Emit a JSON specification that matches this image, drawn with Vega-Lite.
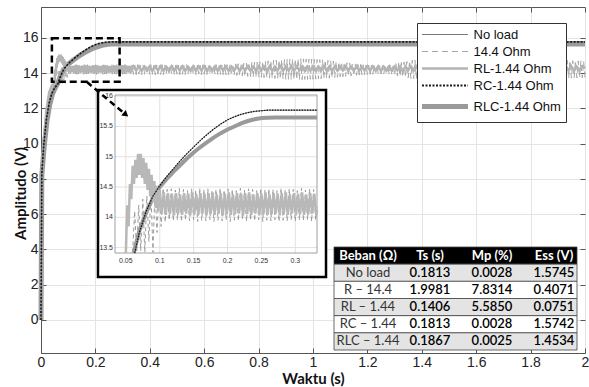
{
"$schema":"https://vega.github.io/schema/vega-lite/v6.json",
"width":544,"height":346,
"autosize":{"type":"none"},
"padding":{"left":41,"top":7,"right":4,"bottom":34},
"config":{"view":{"stroke":"#555","strokeWidth":1},"font":"Liberation Sans","axis":{"labelFlush":false,"labelOverlap":false,"labelBound":false}},
"datasets":{
"rc":[{"t":0,"v":0},{"t":0.003,"v":8.3},{"t":0.01,"v":9.9},{"t":0.02,"v":11.4},{"t":0.03,"v":12.3},{"t":0.04,"v":12.85},{"t":0.05,"v":13.15},{"t":0.063,"v":13.41},{"t":0.07,"v":13.75},{"t":0.08,"v":14.1},{"t":0.09,"v":14.35},{"t":0.1,"v":14.52},{"t":0.11,"v":14.67},{"t":0.12,"v":14.8},{"t":0.13,"v":14.93},{"t":0.14,"v":15.05},{"t":0.15,"v":15.16},{"t":0.16,"v":15.27},{"t":0.17,"v":15.37},{"t":0.18,"v":15.46},{"t":0.19,"v":15.54},{"t":0.2,"v":15.61},{"t":0.21,"v":15.66},{"t":0.22,"v":15.7},{"t":0.23,"v":15.73},{"t":0.24,"v":15.75},{"t":0.26,"v":15.77},{"t":0.332,"v":15.77},{"t":2,"v":15.77}],
"nl":[{"t":0,"v":0},{"t":0.003,"v":8.3},{"t":0.01,"v":9.9},{"t":0.02,"v":11.4},{"t":0.03,"v":12.3},{"t":0.04,"v":12.85},{"t":0.05,"v":13.15},{"t":0.063,"v":13.41},{"t":0.07,"v":13.75},{"t":0.08,"v":14.1},{"t":0.09,"v":14.35},{"t":0.1,"v":14.52},{"t":0.11,"v":14.67},{"t":0.12,"v":14.8},{"t":0.13,"v":14.93},{"t":0.14,"v":15.05},{"t":0.15,"v":15.16},{"t":0.16,"v":15.27},{"t":0.17,"v":15.37},{"t":0.18,"v":15.46},{"t":0.19,"v":15.54},{"t":0.2,"v":15.61},{"t":0.21,"v":15.66},{"t":0.22,"v":15.7},{"t":0.23,"v":15.73},{"t":0.24,"v":15.75},{"t":0.26,"v":15.77},{"t":0.332,"v":15.77},{"t":2,"v":15.77}],
"rlc":[{"t":0,"v":0},{"t":0.003,"v":8.2},{"t":0.012,"v":9.9},{"t":0.022,"v":11.3},{"t":0.032,"v":12.2},{"t":0.042,"v":12.8},{"t":0.052,"v":13.15},{"t":0.0615,"v":13.41},{"t":0.07,"v":13.78},{"t":0.08,"v":14.08},{"t":0.09,"v":14.32},{"t":0.1,"v":14.5},{"t":0.11,"v":14.63},{"t":0.12,"v":14.75},{"t":0.13,"v":14.86},{"t":0.14,"v":14.97},{"t":0.15,"v":15.07},{"t":0.16,"v":15.16},{"t":0.17,"v":15.24},{"t":0.18,"v":15.32},{"t":0.19,"v":15.39},{"t":0.2,"v":15.45},{"t":0.21,"v":15.5},{"t":0.22,"v":15.55},{"t":0.23,"v":15.59},{"t":0.24,"v":15.62},{"t":0.25,"v":15.64},{"t":0.27,"v":15.65},{"t":0.332,"v":15.65},{"t":2,"v":15.65}],
"rl":[{"t":0,"v":0},{"t":0.003,"v":8.4},{"t":0.01,"v":10.1},{"t":0.02,"v":11.9},{"t":0.03,"v":12.9},{"t":0.04,"v":13.3},{"t":0.05,"v":13.41},{"t":0.052,"v":14.2},{"t":0.054,"v":13.85},{"t":0.056,"v":14.55},{"t":0.058,"v":14.3},{"t":0.06,"v":14.85},{"t":0.062,"v":14.55},{"t":0.064,"v":14.95},{"t":0.066,"v":14.65},{"t":0.068,"v":15.05},{"t":0.07,"v":14.7},{"t":0.072,"v":15.05},{"t":0.074,"v":14.65},{"t":0.076,"v":14.98},{"t":0.078,"v":14.55},{"t":0.08,"v":14.9},{"t":0.082,"v":14.45},{"t":0.084,"v":14.8},{"t":0.086,"v":14.35},{"t":0.088,"v":14.7},{"t":0.09,"v":14.25},{"t":0.092,"v":14.6},{"t":0.094,"v":14.15},{"t":0.096,"v":14.52},{"t":0.098,"v":14.1},
{"t":0.1,"v":14.45},{"t":0.103,"v":14.06},{"t":0.106,"v":14.41},{"t":0.109,"v":14.04},{"t":0.112,"v":14.4},{"t":0.115,"v":14.05},{"t":0.118,"v":14.39},{"t":0.121,"v":14.03},{"t":0.124,"v":14.4},{"t":0.127,"v":14.05},{"t":0.13,"v":14.38},{"t":0.133,"v":14.04},{"t":0.136,"v":14.4},{"t":0.139,"v":14.06},{"t":0.142,"v":14.39},{"t":0.145,"v":14.03},{"t":0.148,"v":14.41},{"t":0.151,"v":14.05},{"t":0.154,"v":14.38},{"t":0.157,"v":14.04},{"t":0.16,"v":14.4},{"t":0.163,"v":14.06},{"t":0.166,"v":14.39},{"t":0.169,"v":14.03},{"t":0.172,"v":14.4},{"t":0.175,"v":14.05},{"t":0.178,"v":14.41},{"t":0.181,"v":14.04},{"t":0.184,"v":14.38},{"t":0.187,"v":14.06},{"t":0.19,"v":14.4},{"t":0.193,"v":14.03},{"t":0.196,"v":14.39},{"t":0.199,"v":14.05},{"t":0.202,"v":14.41},{"t":0.205,"v":14.04},{"t":0.208,"v":14.38},{"t":0.211,"v":14.05},{"t":0.214,"v":14.4},{"t":0.217,"v":14.06},{"t":0.22,"v":14.39},{"t":0.223,"v":14.03},{"t":0.226,"v":14.4},{"t":0.229,"v":14.05},{"t":0.232,"v":14.41},{"t":0.235,"v":14.04},{"t":0.238,"v":14.38},{"t":0.241,"v":14.06},{"t":0.244,"v":14.4},{"t":0.247,"v":14.03},{"t":0.25,"v":14.39},{"t":0.253,"v":14.05},{"t":0.256,"v":14.41},{"t":0.259,"v":14.04},{"t":0.262,"v":14.38},{"t":0.265,"v":14.05},{"t":0.268,"v":14.4},{"t":0.271,"v":14.06},{"t":0.274,"v":14.39},{"t":0.277,"v":14.03},{"t":0.28,"v":14.4},{"t":0.283,"v":14.05},{"t":0.286,"v":14.41},{"t":0.289,"v":14.04},{"t":0.292,"v":14.38},{"t":0.295,"v":14.06},{"t":0.298,"v":14.4},{"t":0.301,"v":14.03},{"t":0.304,"v":14.39},{"t":0.307,"v":14.05},{"t":0.31,"v":14.41},{"t":0.313,"v":14.04},{"t":0.316,"v":14.38},{"t":0.319,"v":14.05},{"t":0.322,"v":14.4},{"t":0.325,"v":14.06},{"t":0.328,"v":14.39},{"t":0.331,"v":14.04},{"t":0.332,"v":14.12},
{"t":0.34,"v":14.37},{"t":0.35,"v":14.15},{"t":0.36,"v":14.38},{"t":0.37,"v":14.13},{"t":0.38,"v":14.36},{"t":0.39,"v":14.16},{"t":0.4,"v":14.39},{"t":0.41,"v":14.14},{"t":0.42,"v":14.37},{"t":0.43,"v":14.15},{"t":0.44,"v":14.38},{"t":0.45,"v":14.13},{"t":0.46,"v":14.36},{"t":0.47,"v":14.16},{"t":0.48,"v":14.39},{"t":0.49,"v":14.14},{"t":0.5,"v":14.37},{"t":0.51,"v":14.15},{"t":0.52,"v":14.38},{"t":0.53,"v":14.13},{"t":0.54,"v":14.36},{"t":0.55,"v":14.16},{"t":0.56,"v":14.39},{"t":0.57,"v":14.14},{"t":0.58,"v":14.37},{"t":0.59,"v":14.15},{"t":0.6,"v":14.38},{"t":0.61,"v":14.13},{"t":0.62,"v":14.36},{"t":0.63,"v":14.16},{"t":0.64,"v":14.39},{"t":0.65,"v":14.14},{"t":0.66,"v":14.37},{"t":0.67,"v":14.15},{"t":0.68,"v":14.38},{"t":0.69,"v":14.13},{"t":0.7,"v":14.36},{"t":0.71,"v":14.16},{"t":0.72,"v":14.39},{"t":0.73,"v":14.14},{"t":0.74,"v":14.37},{"t":0.75,"v":14.15},{"t":0.76,"v":14.38},{"t":0.77,"v":14.13},{"t":0.78,"v":14.36},{"t":0.79,"v":14.16},{"t":0.8,"v":14.39},{"t":0.81,"v":14.14},{"t":0.82,"v":14.37},{"t":0.83,"v":14.15},{"t":0.84,"v":14.38},{"t":0.85,"v":14.13},{"t":0.86,"v":14.36},{"t":0.87,"v":14.16},{"t":0.88,"v":14.39},{"t":0.89,"v":14.14},{"t":0.9,"v":14.37},{"t":0.91,"v":14.15},{"t":0.92,"v":14.38},{"t":0.93,"v":14.13},{"t":0.94,"v":14.36},{"t":0.95,"v":14.16},{"t":0.96,"v":14.39},{"t":0.97,"v":14.14},{"t":0.98,"v":14.37},{"t":0.99,"v":14.15},{"t":1,"v":14.38},{"t":1.01,"v":14.13},{"t":1.02,"v":14.36},{"t":1.03,"v":14.16},{"t":1.04,"v":14.39},{"t":1.05,"v":14.14},{"t":1.06,"v":14.37},{"t":1.07,"v":14.15},{"t":1.08,"v":14.38},{"t":1.09,"v":14.13},{"t":1.1,"v":14.36},{"t":1.11,"v":14.16},{"t":1.12,"v":14.39},{"t":1.13,"v":14.14},{"t":1.14,"v":14.37},{"t":1.15,"v":14.15},{"t":1.16,"v":14.38},{"t":1.17,"v":14.13},{"t":1.18,"v":14.36},{"t":1.19,"v":14.16},{"t":1.2,"v":14.39},{"t":1.21,"v":14.14},{"t":1.22,"v":14.37},{"t":1.23,"v":14.15},{"t":1.24,"v":14.38},{"t":1.25,"v":14.13},{"t":1.26,"v":14.36},{"t":1.27,"v":14.16},{"t":1.28,"v":14.39},{"t":1.29,"v":14.14},{"t":1.3,"v":14.37},{"t":1.31,"v":14.15},{"t":1.32,"v":14.38},{"t":1.33,"v":14.13},{"t":1.34,"v":14.36},{"t":1.35,"v":14.16},{"t":1.36,"v":14.39},{"t":1.37,"v":14.14},{"t":1.38,"v":14.37},{"t":1.39,"v":14.15},{"t":1.4,"v":14.38},{"t":1.43,"v":14.14},{"t":1.46,"v":14.37},{"t":1.49,"v":14.15},{"t":1.52,"v":14.38},{"t":1.55,"v":14.13},{"t":1.58,"v":14.36},{"t":1.61,"v":14.16},{"t":1.64,"v":14.39},{"t":1.67,"v":14.14},{"t":1.7,"v":14.37},{"t":1.73,"v":14.15},{"t":1.76,"v":14.38},{"t":1.79,"v":14.13},{"t":1.82,"v":14.36},{"t":1.85,"v":14.16},{"t":1.88,"v":14.39},{"t":1.91,"v":14.14},{"t":1.93,"v":14.37},{"t":1.94,"v":14.15},{"t":1.95,"v":14.38},{"t":1.96,"v":14.13},{"t":1.97,"v":14.36},{"t":1.98,"v":14.16},{"t":1.99,"v":14.39},{"t":2,"v":14.26}],
"r14":[{"t":0,"v":0},{"t":0.004,"v":8.1},{"t":0.012,"v":9.8},{"t":0.022,"v":11.6},{"t":0.034,"v":12.7},{"t":0.046,"v":13.25},{"t":0.06,"v":13.42},{"t":0.063,"v":14.1},{"t":0.066,"v":13.42},{"t":0.069,"v":14.2},{"t":0.072,"v":13.45},{"t":0.075,"v":14.3},{"t":0.078,"v":13.42},{"t":0.081,"v":14.35},{"t":0.084,"v":13.6},{"t":0.087,"v":14.42},{"t":0.09,"v":13.42},{"t":0.093,"v":14.45},{"t":0.096,"v":13.75},{"t":0.099,"v":14.5},{"t":0.102,"v":13.85},
{"t":0.105,"v":14.48},{"t":0.108,"v":13.92},{"t":0.111,"v":14.46},{"t":0.114,"v":13.95},{"t":0.117,"v":14.47},{"t":0.12,"v":13.94},{"t":0.123,"v":14.45},{"t":0.126,"v":13.96},{"t":0.129,"v":14.48},{"t":0.132,"v":13.93},{"t":0.135,"v":14.46},{"t":0.138,"v":13.95},{"t":0.141,"v":14.44},{"t":0.144,"v":13.94},{"t":0.147,"v":14.47},{"t":0.15,"v":13.96},{"t":0.153,"v":14.45},{"t":0.156,"v":13.93},{"t":0.159,"v":14.48},{"t":0.162,"v":13.95},{"t":0.165,"v":14.46},{"t":0.168,"v":13.94},{"t":0.171,"v":14.47},{"t":0.174,"v":13.96},{"t":0.177,"v":14.44},{"t":0.18,"v":13.93},{"t":0.183,"v":14.46},{"t":0.186,"v":13.95},{"t":0.189,"v":14.48},{"t":0.192,"v":13.94},{"t":0.195,"v":14.45},{"t":0.198,"v":13.96},{"t":0.201,"v":14.47},{"t":0.204,"v":13.93},{"t":0.207,"v":14.46},{"t":0.21,"v":13.95},{"t":0.213,"v":14.44},{"t":0.216,"v":13.94},{"t":0.219,"v":14.48},{"t":0.222,"v":13.96},{"t":0.225,"v":14.45},{"t":0.228,"v":13.93},{"t":0.231,"v":14.47},{"t":0.234,"v":13.95},{"t":0.237,"v":14.46},{"t":0.24,"v":13.94},{"t":0.243,"v":14.44},{"t":0.246,"v":13.96},{"t":0.249,"v":14.48},{"t":0.252,"v":13.93},{"t":0.255,"v":14.45},{"t":0.258,"v":13.95},{"t":0.261,"v":14.47},{"t":0.264,"v":13.94},{"t":0.267,"v":14.46},{"t":0.27,"v":13.96},{"t":0.273,"v":14.44},{"t":0.276,"v":13.93},{"t":0.279,"v":14.48},{"t":0.282,"v":13.95},{"t":0.285,"v":14.45},{"t":0.288,"v":13.94},{"t":0.291,"v":14.47},{"t":0.294,"v":13.96},{"t":0.297,"v":14.46},{"t":0.3,"v":13.93},{"t":0.303,"v":14.44},{"t":0.306,"v":13.95},{"t":0.309,"v":14.48},{"t":0.312,"v":13.94},{"t":0.315,"v":14.45},{"t":0.318,"v":13.96},{"t":0.321,"v":14.47},{"t":0.324,"v":13.93},{"t":0.327,"v":14.46},{"t":0.33,"v":13.95},{"t":0.332,"v":14.2},
{"t":0.335,"v":14.46},{"t":0.34,"v":13.93},{"t":0.345,"v":14.44},{"t":0.35,"v":13.91},{"t":0.355,"v":14.47},{"t":0.36,"v":13.94},{"t":0.365,"v":14.43},{"t":0.37,"v":13.9},{"t":0.375,"v":14.46},{"t":0.38,"v":13.92},{"t":0.385,"v":14.45},{"t":0.39,"v":13.95},{"t":0.395,"v":14.42},{"t":0.4,"v":13.91},{"t":0.405,"v":14.47},{"t":0.41,"v":13.93},{"t":0.415,"v":14.44},{"t":0.42,"v":13.9},{"t":0.425,"v":14.46},{"t":0.43,"v":13.94},{"t":0.435,"v":14.43},{"t":0.44,"v":13.92},{"t":0.445,"v":14.48},{"t":0.45,"v":13.91},{"t":0.455,"v":14.44},{"t":0.46,"v":13.95},{"t":0.465,"v":14.45},{"t":0.47,"v":13.9},{"t":0.475,"v":14.43},{"t":0.48,"v":13.93},{"t":0.485,"v":14.47},{"t":0.49,"v":13.92},{"t":0.495,"v":14.44},{"t":0.5,"v":13.94},{"t":0.505,"v":14.46},{"t":0.51,"v":13.91},{"t":0.515,"v":14.42},{"t":0.52,"v":13.93},{"t":0.525,"v":14.45},{"t":0.53,"v":13.9},{"t":0.535,"v":14.47},{"t":0.54,"v":13.94},{"t":0.545,"v":14.44},{"t":0.55,"v":13.92},{"t":0.555,"v":14.46},{"t":0.56,"v":13.93},{"t":0.565,"v":14.43},{"t":0.57,"v":13.91},{"t":0.575,"v":14.45},{"t":0.58,"v":13.95},{"t":0.585,"v":14.44},{"t":0.59,"v":13.9},{"t":0.595,"v":14.47},{"t":0.6,"v":13.93},{"t":0.605,"v":14.45},{"t":0.61,"v":13.92},{"t":0.615,"v":14.43},{"t":0.62,"v":13.94},{"t":0.625,"v":14.46},{"t":0.63,"v":13.91},{"t":0.635,"v":14.44},{"t":0.64,"v":13.93},{"t":0.645,"v":14.47},{"t":0.65,"v":13.9},{"t":0.655,"v":14.45},{"t":0.66,"v":13.92},{"t":0.665,"v":14.46},{"t":0.67,"v":13.91},{"t":0.675,"v":14.48},{"t":0.68,"v":13.9},{"t":0.685,"v":14.47},{"t":0.69,"v":13.89},{"t":0.695,"v":14.5},{"t":0.7,"v":13.88},
{"t":0.705,"v":14.5},{"t":0.71,"v":13.87},{"t":0.715,"v":14.52},{"t":0.72,"v":13.86},{"t":0.725,"v":14.53},{"t":0.73,"v":13.85},{"t":0.735,"v":14.54},{"t":0.74,"v":13.84},{"t":0.745,"v":14.55},{"t":0.75,"v":13.82},{"t":0.755,"v":14.57},{"t":0.76,"v":13.81},{"t":0.765,"v":14.58},{"t":0.77,"v":13.8},{"t":0.775,"v":14.6},{"t":0.78,"v":13.78},{"t":0.785,"v":14.61},{"t":0.79,"v":13.77},{"t":0.795,"v":14.62},{"t":0.8,"v":13.76},{"t":0.805,"v":14.64},{"t":0.81,"v":13.75},{"t":0.815,"v":14.66},{"t":0.82,"v":13.74},{"t":0.825,"v":14.67},{"t":0.83,"v":13.72},{"t":0.835,"v":14.69},{"t":0.84,"v":13.71},{"t":0.845,"v":14.7},{"t":0.85,"v":13.7},{"t":0.855,"v":14.72},{"t":0.86,"v":13.69},{"t":0.865,"v":14.73},{"t":0.87,"v":13.68},{"t":0.875,"v":14.74},{"t":0.88,"v":13.67},{"t":0.885,"v":14.76},{"t":0.89,"v":13.66},{"t":0.895,"v":14.77},{"t":0.9,"v":13.65},{"t":0.905,"v":14.78},{"t":0.91,"v":13.65},{"t":0.915,"v":14.79},{"t":0.92,"v":13.64},{"t":0.925,"v":14.8},{"t":0.93,"v":13.64},{"t":0.935,"v":14.8},{"t":0.94,"v":13.63},{"t":0.945,"v":14.81},{"t":0.95,"v":13.63},{"t":0.955,"v":14.81},{"t":0.96,"v":13.63},{"t":0.965,"v":14.8},{"t":0.97,"v":13.64},{"t":0.975,"v":14.8},{"t":0.98,"v":13.64},{"t":0.985,"v":14.79},{"t":0.99,"v":13.65},{"t":0.995,"v":14.79},{"t":1,"v":13.65},{"t":1.005,"v":14.78},{"t":1.01,"v":13.66},{"t":1.015,"v":14.77},{"t":1.02,"v":13.67},{"t":1.025,"v":14.76},{"t":1.03,"v":13.68},{"t":1.035,"v":14.75},{"t":1.04,"v":13.69},{"t":1.045,"v":14.74},{"t":1.05,"v":13.7},{"t":1.055,"v":14.72},{"t":1.06,"v":13.71},{"t":1.065,"v":14.7},{"t":1.07,"v":13.73},{"t":1.075,"v":14.68},{"t":1.08,"v":13.74},{"t":1.085,"v":14.66},{"t":1.09,"v":13.76},{"t":1.095,"v":14.64},{"t":1.1,"v":13.78},{"t":1.105,"v":14.62},{"t":1.11,"v":13.79},{"t":1.115,"v":14.6},{"t":1.12,"v":13.81},{"t":1.125,"v":14.58},{"t":1.13,"v":13.83},{"t":1.135,"v":14.56},{"t":1.14,"v":13.84},{"t":1.145,"v":14.54},{"t":1.15,"v":13.86},{"t":1.155,"v":14.52},{"t":1.16,"v":13.87},{"t":1.165,"v":14.5},{"t":1.17,"v":13.89},{"t":1.175,"v":14.49},{"t":1.18,"v":13.9},{"t":1.185,"v":14.47},{"t":1.19,"v":13.91},{"t":1.195,"v":14.46},{"t":1.2,"v":13.92},{"t":1.205,"v":14.45},{"t":1.21,"v":13.93},{"t":1.215,"v":14.44},{"t":1.22,"v":13.94},{"t":1.225,"v":14.43},{"t":1.23,"v":13.94},{"t":1.235,"v":14.43},{"t":1.24,"v":13.95},{"t":1.245,"v":14.42},{"t":1.25,"v":13.95},{"t":1.255,"v":14.42},{"t":1.26,"v":13.94},{"t":1.265,"v":14.43},{"t":1.27,"v":13.93},{"t":1.275,"v":14.45},{"t":1.28,"v":13.91},{"t":1.285,"v":14.47},{"t":1.29,"v":13.89},{"t":1.295,"v":14.5},{"t":1.3,"v":13.87},{"t":1.305,"v":14.53},{"t":1.31,"v":13.84},{"t":1.315,"v":14.56},{"t":1.32,"v":13.81},{"t":1.325,"v":14.6},{"t":1.33,"v":13.78},{"t":1.335,"v":14.63},{"t":1.34,"v":13.75},{"t":1.345,"v":14.66},{"t":1.35,"v":13.72},{"t":1.355,"v":14.69},{"t":1.36,"v":13.7},{"t":1.365,"v":14.72},{"t":1.37,"v":13.68},{"t":1.375,"v":14.74},{"t":1.38,"v":13.67},{"t":1.385,"v":14.76},{"t":1.39,"v":13.66},{"t":1.395,"v":14.77},{"t":1.4,"v":13.65},
{"t":1.415,"v":14.78},{"t":1.43,"v":13.65},{"t":1.445,"v":14.76},{"t":1.46,"v":13.67},{"t":1.475,"v":14.72},{"t":1.49,"v":13.7},{"t":1.505,"v":14.66},{"t":1.52,"v":13.75},{"t":1.535,"v":14.6},{"t":1.55,"v":13.8},{"t":1.565,"v":14.55},{"t":1.58,"v":13.84},{"t":1.595,"v":14.52},{"t":1.61,"v":13.85},{"t":1.625,"v":14.55},{"t":1.64,"v":13.82},{"t":1.655,"v":14.6},{"t":1.67,"v":13.78},{"t":1.685,"v":14.66},{"t":1.7,"v":13.74},{"t":1.715,"v":14.7},{"t":1.73,"v":13.7},{"t":1.745,"v":14.74},{"t":1.76,"v":13.68},{"t":1.775,"v":14.76},{"t":1.79,"v":13.67},{"t":1.805,"v":14.77},{"t":1.82,"v":13.67},{"t":1.835,"v":14.76},{"t":1.85,"v":13.68},{"t":1.865,"v":14.74},{"t":1.88,"v":13.69},{"t":1.895,"v":14.73},{"t":1.91,"v":13.7},{"t":1.925,"v":14.72},{"t":1.93,"v":13.7},{"t":1.935,"v":14.72},{"t":1.94,"v":13.71},{"t":1.945,"v":14.71},{"t":1.95,"v":13.71},{"t":1.955,"v":14.7},{"t":1.96,"v":13.72},{"t":1.965,"v":14.7},{"t":1.97,"v":13.72},{"t":1.975,"v":14.69},{"t":1.98,"v":13.73},{"t":1.985,"v":14.69},{"t":1.99,"v":13.73},{"t":1.995,"v":14.68},{"t":2,"v":13.74}],
"tbl":[{"load":"Beban (Ω)","ts":"Ts (s)","mp":"Mp (%)","ess":"Ess (V)"},{"load":"No load","ts":"0.1813","mp":"0.0028","ess":"1.5745"},{"load":"R – 14.4","ts":"1.9981","mp":"7.8314","ess":"0.4071"},{"load":"RL – 1.44","ts":"0.1406","mp":"5.5850","ess":"0.0751"},{"load":"RC – 1.44","ts":"0.1813","mp":"0.0028","ess":"1.5742"},{"load":"RLC – 1.44","ts":"0.1867","mp":"0.0025","ess":"1.4534"}]
},
"resolve":{"scale":{"x":"independent","y":"independent"}},
"layer":[
{
"resolve":{"axis":{"x":"independent","y":"independent"}},
"layer":[
{
"data":{"name":"rlc"},
"mark":{"type":"line","strokeWidth":5},
"encoding":{
"x":{
"field":"t","type":"quantitative",
"scale":{"domain":[0,2],"nice":false,"zero":false},
"axis":{"orient":"bottom","values":[0,0.2,0.4,0.6,0.8,1,1.2,1.4,1.6,1.8,2],"format":"~g","grid":true,"gridColor":"#e4e4e4","tickSize":-5,"tickColor":"#555","domainColor":"#555","labelPadding":7,"labelFont":"Liberation Sans","labelFontSize":14,"labelColor":"#222","title":"Waktu (s)","titleFont":"Lato","titleFontSize":15,"titleFontWeight":"bold","titleColor":"#111","titleY":25,"titleBaseline":"middle"}
},
"y":{
"field":"v","type":"quantitative",
"scale":{"domain":[-1.871,17.746],"nice":false,"zero":false},
"axis":{"orient":"left","values":[0,2,4,6,8,10,12,14,16],"grid":true,"gridColor":"#e4e4e4","tickSize":-5,"tickColor":"#555","domainColor":"#555","labelPadding":8,"labelFont":"Liberation Sans","labelFontSize":14,"labelColor":"#222","title":"Amplitudo (V)","titleFont":"Lato","titleFontSize":15,"titleFontWeight":"bold","titleColor":"#111","titleX":-21,"titleY":186,"titleBaseline":"middle"}
},
"color":{
"datum":"RLC-1.44 Ohm","type":"nominal",
"scale":{"domain":["No load","14.4 Ohm","RL-1.44 Ohm","RC-1.44 Ohm","RLC-1.44 Ohm"],"range":["#7a7a7a","#a6a6a6","#b4b4b4","#1a1a1a","#9a9a9a"]},
"legend":{
"title":null,"orient":"none","legendX":376,"legendY":16,"fillColor":"#fff","strokeColor":"#333","padding":5,"symbolType":"stroke","symbolSize":2116,"symbolStrokeWidth":1.5,"symbolOffset":16.5,"labelFont":"Liberation Sans","labelFontSize":13,"labelColor":"#111","labelOffset":22,"rowPadding":3,
"encode":{"symbols":{"update":{"strokeWidth":{"signal":"datum.value === 'RLC-1.44 Ohm' ? 5 : datum.value === 'RL-1.44 Ohm' ? 2.5 : datum.value === 'RC-1.44 Ohm' ? 2 : 1.2"}}}}
}
},
"strokeDash":{
"datum":"RLC-1.44 Ohm","type":"nominal",
"scale":{"domain":["No load","14.4 Ohm","RL-1.44 Ohm","RC-1.44 Ohm","RLC-1.44 Ohm"],"range":[[1,0],[6,4],[1,0],[2,1.5],[1,0]]},
"legend":{
"title":null,"orient":"none","legendX":376,"legendY":16,"fillColor":"#fff","strokeColor":"#333","padding":5,"symbolType":"stroke","symbolSize":2116,"symbolStrokeWidth":1.5,"symbolOffset":16.5,"labelFont":"Liberation Sans","labelFontSize":13,"labelColor":"#111","labelOffset":22,"rowPadding":3,
"encode":{"symbols":{"update":{"strokeWidth":{"signal":"datum.value === 'RLC-1.44 Ohm' ? 5 : datum.value === 'RL-1.44 Ohm' ? 2.5 : datum.value === 'RC-1.44 Ohm' ? 2 : 1.2"}}}}
}
}
}
},
{
"data":{"name":"r14"},
"mark":{"type":"line","strokeWidth":1},
"encoding":{
"x":{"field":"t","type":"quantitative","scale":{"domain":[0,2],"nice":false,"zero":false},
"axis":{"orient":"top","values":[0,0.2,0.4,0.6,0.8,1,1.2,1.4,1.6,1.8,2],"labels":false,"grid":false,"domain":false,"tickSize":-5,"tickColor":"#555","title":null}},
"y":{"field":"v","type":"quantitative","scale":{"domain":[-1.871,17.746],"nice":false,"zero":false},
"axis":{"orient":"right","values":[0,2,4,6,8,10,12,14,16],"labels":false,"grid":false,"domain":false,"tickSize":-5,"tickColor":"#555","title":null}},
"color":{"datum":"14.4 Ohm","type":"nominal"},
"strokeDash":{"datum":"14.4 Ohm","type":"nominal"}
}
},
{
"data":{"name":"rl"},
"mark":{"type":"line","strokeWidth":2.5},
"encoding":{
"x":{"field":"t","type":"quantitative","scale":{"domain":[0,2],"nice":false,"zero":false},"axis":null},
"y":{"field":"v","type":"quantitative","scale":{"domain":[-1.871,17.746],"nice":false,"zero":false},"axis":null},
"color":{"datum":"RL-1.44 Ohm","type":"nominal"},
"strokeDash":{"datum":"RL-1.44 Ohm","type":"nominal"}
}
},
{
"data":{"name":"nl"},
"mark":{"type":"line","strokeWidth":1.2},
"encoding":{
"x":{"field":"t","type":"quantitative","scale":{"domain":[0,2],"nice":false,"zero":false},"axis":null},
"y":{"field":"v","type":"quantitative","scale":{"domain":[-1.871,17.746],"nice":false,"zero":false},"axis":null},
"color":{"datum":"No load","type":"nominal"},
"strokeDash":{"datum":"No load","type":"nominal"}
}
},
{
"data":{"name":"rc"},
"mark":{"type":"line","strokeWidth":1.6},
"encoding":{
"x":{"field":"t","type":"quantitative","scale":{"domain":[0,2],"nice":false,"zero":false},"axis":null},
"y":{"field":"v","type":"quantitative","scale":{"domain":[-1.871,17.746],"nice":false,"zero":false},"axis":null},
"color":{"datum":"RC-1.44 Ohm","type":"nominal"},
"strokeDash":{"datum":"RC-1.44 Ohm","type":"nominal"}
}
},
{
"data":{"values":[{}]},
"mark":{"type":"rect","fillOpacity":0,"stroke":"#000","strokeWidth":2.5,"strokeDash":[7,4]},
"encoding":{
"x":{"datum":0.04,"type":"quantitative","scale":{"domain":[0,2],"nice":false,"zero":false},"axis":null},
"x2":{"datum":0.289},
"y":{"datum":13.51,"type":"quantitative","scale":{"domain":[-1.871,17.746],"nice":false,"zero":false},"axis":null},
"y2":{"datum":15.97}
}
}
]
},
{
"layer":[
{
"data":{"values":[{}]},
"mark":{"type":"rect","fill":"#fff","stroke":"#000","strokeWidth":2.5},
"encoding":{
"x":{"datum":0.0089,"type":"quantitative","scale":{"domain":[0.034,0.332],"range":[74,276],"nice":false,"zero":false},"axis":null},
"x2":{"datum":0.3453},
"y":{"datum":13.0135,"type":"quantitative","scale":{"domain":[13.41,16.02],"range":[246,88],"nice":false,"zero":false},"axis":null},
"y2":{"datum":16.1026}
}
},
{
"data":{"values":[{"g":0.05},{"g":0.1},{"g":0.15},{"g":0.2},{"g":0.25},{"g":0.3}]},
"layer":[
{
"mark":{"type":"rule","color":"#e2e2e2","strokeWidth":1},
"encoding":{
"x":{"field":"g","type":"quantitative","scale":{"domain":[0.034,0.332],"range":[74,276],"nice":false,"zero":false},"axis":null},
"y":{"datum":13.41,"type":"quantitative","scale":{"domain":[13.41,16.02],"range":[246,88],"nice":false,"zero":false},"axis":null},
"y2":{"datum":16.02}
}
},
{
"mark":{"type":"text","fontSize":7,"color":"#333","baseline":"top","dy":4},
"encoding":{
"x":{"field":"g","type":"quantitative","scale":{"domain":[0.034,0.332],"range":[74,276],"nice":false,"zero":false},"axis":null},
"y":{"datum":13.41,"type":"quantitative","scale":{"domain":[13.41,16.02],"range":[246,88],"nice":false,"zero":false},"axis":null},
"text":{"field":"g","type":"quantitative","format":"~g"}
}
}
]
},
{
"data":{"values":[{"g":13.5},{"g":14},{"g":14.5},{"g":15},{"g":15.5},{"g":16}]},
"layer":[
{
"mark":{"type":"rule","color":"#e2e2e2","strokeWidth":1},
"encoding":{
"y":{"field":"g","type":"quantitative","scale":{"domain":[13.41,16.02],"range":[246,88],"nice":false,"zero":false},"axis":null},
"x":{"datum":0.034,"type":"quantitative","scale":{"domain":[0.034,0.332],"range":[74,276],"nice":false,"zero":false},"axis":null},
"x2":{"datum":0.332}
}
},
{
"mark":{"type":"text","fontSize":7,"color":"#333","align":"right","baseline":"middle","dx":-2},
"encoding":{
"y":{"field":"g","type":"quantitative","scale":{"domain":[13.41,16.02],"range":[246,88],"nice":false,"zero":false},"axis":null},
"x":{"datum":0.034,"type":"quantitative","scale":{"domain":[0.034,0.332],"range":[74,276],"nice":false,"zero":false},"axis":null},
"text":{"field":"g","type":"quantitative","format":"~g"}
}
}
]
},
{
"data":{"values":[{}]},
"mark":{"type":"rect","fillOpacity":0,"stroke":"#888","strokeWidth":0.8},
"encoding":{
"x":{"datum":0.034,"type":"quantitative","scale":{"domain":[0.034,0.332],"range":[74,276],"nice":false,"zero":false},"axis":null},
"x2":{"datum":0.332},
"y":{"datum":13.41,"type":"quantitative","scale":{"domain":[13.41,16.02],"range":[246,88],"nice":false,"zero":false},"axis":null},
"y2":{"datum":16.02}
}
},
{
"data":{"name":"rlc"},
"transform":[{"filter":"datum.t >= 0.034 && datum.t <= 0.332 && datum.v >= 13.41"}],
"mark":{"type":"line","strokeWidth":4,"color":"#9a9a9a"},
"encoding":{
"x":{"field":"t","type":"quantitative","scale":{"domain":[0.034,0.332],"range":[74,276],"nice":false,"zero":false},"axis":null},
"y":{"field":"v","type":"quantitative","scale":{"domain":[13.41,16.02],"range":[246,88],"nice":false,"zero":false},"axis":null}
}
},
{
"data":{"name":"r14"},
"transform":[{"filter":"datum.t >= 0.034 && datum.t <= 0.332 && datum.v >= 13.41"}],
"mark":{"type":"line","strokeWidth":1,"color":"#9c9c9c","strokeDash":[4,3]},
"encoding":{
"x":{"field":"t","type":"quantitative","scale":{"domain":[0.034,0.332],"range":[74,276],"nice":false,"zero":false},"axis":null},
"y":{"field":"v","type":"quantitative","scale":{"domain":[13.41,16.02],"range":[246,88],"nice":false,"zero":false},"axis":null}
}
},
{
"data":{"name":"rl"},
"transform":[{"filter":"datum.t >= 0.034 && datum.t <= 0.332 && datum.v >= 13.41"}],
"mark":{"type":"line","strokeWidth":2.5,"color":"#b8b8b8"},
"encoding":{
"x":{"field":"t","type":"quantitative","scale":{"domain":[0.034,0.332],"range":[74,276],"nice":false,"zero":false},"axis":null},
"y":{"field":"v","type":"quantitative","scale":{"domain":[13.41,16.02],"range":[246,88],"nice":false,"zero":false},"axis":null}
}
},
{
"data":{"name":"nl"},
"transform":[{"filter":"datum.t >= 0.034 && datum.t <= 0.332 && datum.v >= 13.41"}],
"mark":{"type":"line","strokeWidth":1,"color":"#7a7a7a"},
"encoding":{
"x":{"field":"t","type":"quantitative","scale":{"domain":[0.034,0.332],"range":[74,276],"nice":false,"zero":false},"axis":null},
"y":{"field":"v","type":"quantitative","scale":{"domain":[13.41,16.02],"range":[246,88],"nice":false,"zero":false},"axis":null}
}
},
{
"data":{"name":"rc"},
"transform":[{"filter":"datum.t >= 0.034 && datum.t <= 0.332 && datum.v >= 13.41"}],
"mark":{"type":"line","strokeWidth":1.2,"color":"#111","strokeDash":[1.5,1.2]},
"encoding":{
"x":{"field":"t","type":"quantitative","scale":{"domain":[0.034,0.332],"range":[74,276],"nice":false,"zero":false},"axis":null},
"y":{"field":"v","type":"quantitative","scale":{"domain":[13.41,16.02],"range":[246,88],"nice":false,"zero":false},"axis":null}
}
}
]
},
{
"data":{"name":"tbl"},
"resolve":{"scale":{"x":"independent"}},
"layer":[
{
"mark":{"type":"rect","stroke":"#444","strokeWidth":0.8},
"encoding":{
"x":{"datum":0,"type":"quantitative","scale":{"domain":[0,1],"range":[293,536],"nice":false,"zero":false},"axis":null},
"x2":{"datum":1},
"y":{"field":"load","type":"nominal","scale":{"domain":["Beban (Ω)","No load","R – 14.4","RL – 1.44","RC – 1.44","RLC – 1.44"],"range":[240,343],"paddingInner":0,"paddingOuter":0},"axis":null},
"fill":{"condition":[{"test":"datum.load === 'Beban (Ω)'","value":"#000"},{"test":"datum.load === 'No load' || datum.load === 'RL – 1.44' || datum.load === 'RLC – 1.44'","value":"#e4e4e4"}],"value":"#fff"}
}
},
{
"transform":[{"fold":["load","ts","mp","ess"],"as":["col","val"]},{"filter":"datum.load === 'Beban (Ω)'"}],
"mark":{"type":"text","font":"Lato","fontSize":13,"fontWeight":"bold","color":"#fff"},
"encoding":{
"x":{"field":"col","type":"nominal","scale":{"type":"point","domain":["load","ts","mp","ess"],"range":[327,513],"padding":0},"axis":null},
"y":{"field":"load","type":"nominal","axis":null},
"text":{"field":"val"}
}
},
{
"transform":[{"fold":["load","ts","mp","ess"],"as":["col","val"]},{"filter":"datum.load !== 'Beban (Ω)' && datum.col === 'load'"}],
"mark":{"type":"text","font":"Lato","fontSize":13,"color":"#333"},
"encoding":{
"x":{"field":"col","type":"nominal","scale":{"type":"point","domain":["load","ts","mp","ess"],"range":[327,513],"padding":0},"axis":null},
"y":{"field":"load","type":"nominal","axis":null},
"text":{"field":"val"}
}
},
{
"transform":[{"fold":["load","ts","mp","ess"],"as":["col","val"]},{"filter":"datum.load !== 'Beban (Ω)' && datum.col !== 'load'"}],
"mark":{"type":"text","font":"Lato","fontSize":13,"fontWeight":600,"color":"#000"},
"encoding":{
"x":{"field":"col","type":"nominal","scale":{"type":"point","domain":["load","ts","mp","ess"],"range":[327,513],"padding":0},"axis":null},
"y":{"field":"load","type":"nominal","axis":null},
"text":{"field":"val"}
}
}
]
},
{
"data":{"values":[{}]},
"layer":[
{
"mark":{"type":"rule","color":"#000","strokeWidth":2.5,"strokeDash":[6,4]},
"encoding":{
"x":{"datum":0.169,"type":"quantitative","scale":{"domain":[0,2],"nice":false,"zero":false},"axis":null},
"x2":{"datum":0.302},
"y":{"datum":13.49,"type":"quantitative","scale":{"domain":[-1.871,17.746],"nice":false,"zero":false},"axis":null},
"y2":{"datum":11.77}
}
},
{
"mark":{"type":"point","shape":"triangle","filled":true,"color":"#000","opacity":1,"size":50,"angle":130},
"encoding":{
"x":{"datum":0.309,"type":"quantitative","scale":{"domain":[0,2],"nice":false,"zero":false},"axis":null},
"y":{"datum":11.68,"type":"quantitative","scale":{"domain":[-1.871,17.746],"nice":false,"zero":false},"axis":null}
}
}
]
}
]
}
